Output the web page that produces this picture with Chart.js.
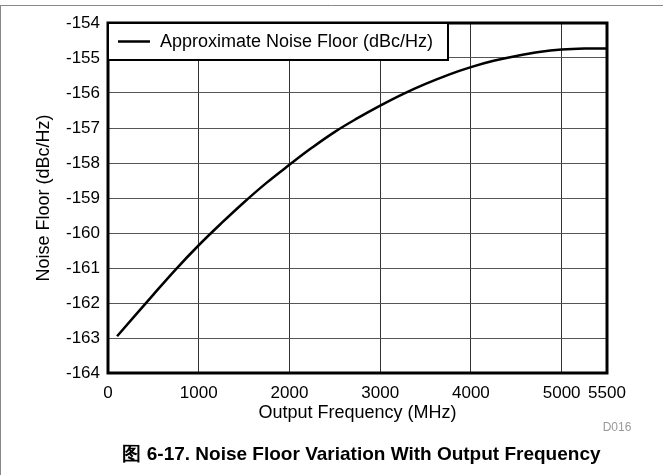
<!DOCTYPE html>
<html><head><meta charset="utf-8">
<script src="https://cdn.jsdelivr.net/npm/chart.js@4/dist/chart.umd.min.js"></script>
<style>html,body{margin:0;padding:0;background:#fff;}#wrap{width:663px;height:475px;position:relative;}</style>
</head><body><div id="wrap"><canvas id="c" width="663" height="475"></canvas></div>
<script>
const frequencyMHz = [100, 500, 750, 1000, 1250, 1500, 1750, 2000, 2250, 2500, 2750, 3000, 3250, 3500, 3750, 4000, 4250, 4500, 4750, 5000, 5250, 5500];
const noiseFloor = [-162.95, -161.76, -161.03, -160.35, -159.72, -159.12, -158.56, -158.05, -157.56, -157.11, -156.72, -156.36, -156.03, -155.74, -155.48, -155.26, -155.08, -154.94, -154.83, -154.76, -154.73, -154.73];
const xTickValues = [0, 1000, 2000, 3000, 4000, 5000, 5500];
const yTickValues = [-164, -163, -162, -161, -160, -159, -158, -157, -156, -155, -154];
const seriesLabel = 'Approximate Noise Floor (dBc/Hz)';
const xAxisTitle = 'Output Frequency (MHz)';
const yAxisTitle = 'Noise Floor (dBc/Hz)';
const figureTitle = '图 6-17. Noise Floor Variation With Output Frequency';
const figureId = 'D016';

const FONT = "'Liberation Sans', Arial, Helvetica, sans-serif";

const decor = {
  id: 'decor',
  afterDraw(chart) {
    const ctx = chart.ctx;
    const a = chart.chartArea;
    ctx.save();
    // outer figure frame
    ctx.strokeStyle = '#888';
    ctx.lineWidth = 1;
    ctx.beginPath();
    ctx.moveTo(0, 5.5); ctx.lineTo(663, 5.5);
    ctx.moveTo(0.5, 5); ctx.lineTo(0.5, 475);
    ctx.stroke();
    // thick plot frame
    ctx.strokeStyle = '#000';
    ctx.lineWidth = 3;
    ctx.strokeRect(a.left, a.top, a.right - a.left, a.bottom - a.top);
    // legend box
    const lw = 340, lh = 37;
    ctx.fillStyle = '#fff';
    ctx.fillRect(a.left, a.top, lw, lh);
    ctx.lineWidth = 2;
    ctx.strokeRect(a.left, a.top, lw, lh);
    ctx.lineWidth = 2.5;
    ctx.beginPath();
    ctx.moveTo(a.left + 10, a.top + lh / 2);
    ctx.lineTo(a.left + 42, a.top + lh / 2);
    ctx.stroke();
    ctx.fillStyle = '#000';
    ctx.font = '18px ' + FONT;
    ctx.textAlign = 'left';
    ctx.textBaseline = 'middle';
    ctx.fillText(chart.data.datasets[0].label, a.left + 52, a.top + lh / 2 + 1);
    // axis titles
    const cx = (a.left + a.right) / 2;
    ctx.textAlign = 'center';
    ctx.fillText(xAxisTitle, cx, 413);
    ctx.save();
    ctx.translate(44, (a.top + a.bottom) / 2);
    ctx.rotate(-Math.PI / 2);
    ctx.fillText(yAxisTitle, 0, 0);
    ctx.restore();
    // figure id
    ctx.fillStyle = '#999';
    ctx.font = '12px ' + FONT;
    ctx.fillText(figureId, 617, 428);
    // figure title
    ctx.fillStyle = '#000';
    ctx.font = 'bold 19px ' + FONT;
    ctx.fillText(figureTitle, cx + 4, 455);
    ctx.restore();
  }
};

new Chart(document.getElementById('c'), {
  type: 'scatter',
  data: {
    datasets: [{
      label: seriesLabel,
      data: frequencyMHz.map((f, i) => ({ x: f, y: noiseFloor[i] })),
      showLine: true,
      borderColor: '#000',
      borderWidth: 2.5,
      pointRadius: 0,
      tension: 0.4,
      fill: false
    }]
  },
  options: {
    responsive: false,
    animation: false,
    devicePixelRatio: 1,
    layout: { padding: { left: 0, top: 23, right: 56, bottom: 0 } },
    plugins: { legend: { display: false }, tooltip: { enabled: false }, title: { display: false } },
    scales: {
      x: {
        type: 'linear', min: 0, max: 5500,
        afterBuildTicks: s => { s.ticks = xTickValues.map(v => ({ value: v })); },
        afterFit: s => { s.height = 102; },
        grid: { color: '#333', lineWidth: 1, drawTicks: false },
        border: { display: false },
        ticks: { color: '#000', font: { family: FONT, size: 17 }, padding: 10, maxRotation: 0, autoSkip: false,
          callback: v => String(v) }
      },
      y: {
        type: 'linear', min: -164, max: -154,
        afterBuildTicks: s => { s.ticks = yTickValues.map(v => ({ value: v })); },
        afterFit: s => { s.width = 108; },
        grid: { color: '#555', lineWidth: 1, drawTicks: false },
        border: { display: false },
        ticks: { color: '#000', font: { family: FONT, size: 17 }, padding: 8, callback: v => String(v) }
      }
    }
  },
  plugins: [decor]
});
</script></body></html>
